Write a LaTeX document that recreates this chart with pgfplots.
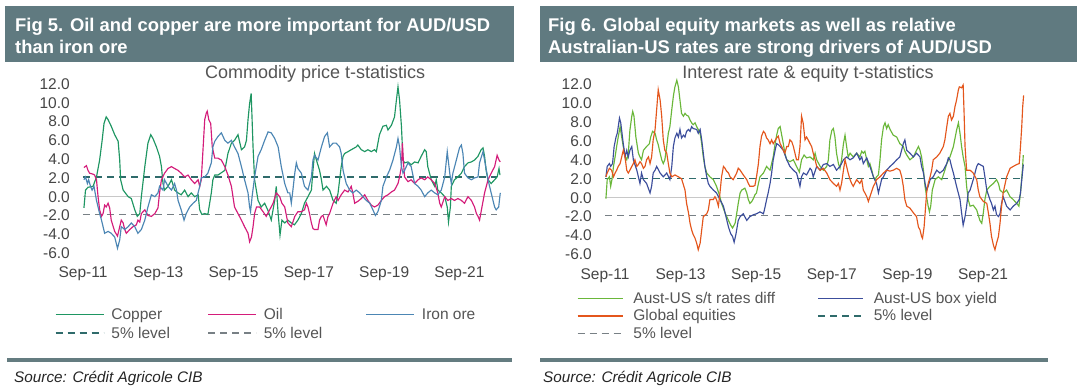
\documentclass[border=0pt]{standalone}
\usepackage{pgfplots}
\pgfplotsset{compat=1.18}
\usepackage{fontspec}
\setmainfont{Liberation Sans}
\definecolor{hdr}{RGB}{96,122,128}
\definecolor{sepc}{RGB}{100,124,128}
\definecolor{tickgray}{RGB}{70,70,70}
\definecolor{leggray}{RGB}{85,85,85}
\definecolor{zerogray}{RGB}{200,200,200}
\definecolor{tealdash}{RGB}{47,107,107}
\definecolor{graydash}{RGB}{120,128,133}
\definecolor{copper}{RGB}{30,150,98}
\definecolor{oil}{RGB}{212,28,122}
\definecolor{iron}{RGB}{76,134,180}
\definecolor{rates}{RGB}{106,183,58}
\definecolor{box}{RGB}{60,78,156}
\definecolor{equity}{RGB}{228,86,28}
\newcommand{\LL}[2][105pt]{\makebox[#1][l]{\hspace{7pt}#2}}
\newcommand{\LR}[1]{\makebox[194pt][l]{\hspace{10pt}#1}}
\pgfplotsset{tstat/.style={
  scale only axis, clip=false,
  axis line style={draw=none}, major tick length=0pt,
  xmin=0, xmax=134, ymin=-6, ymax=12,
  ytick={-6,-4,-2,0,2,4,6,8,10,12},
  yticklabels={-6.0,-4.0,-2.0,0.0,2.0,4.0,6.0,8.0,10.0,12.0},
  xtick={0,24,48,72,96,120},
  xticklabels={Sep-11,Sep-13,Sep-15,Sep-17,Sep-19,Sep-21},
  ticklabel style={font=\fontsize{15.5pt}{18pt}\selectfont, text=tickgray},
  yticklabel style={anchor=east, inner sep=0pt, xshift=-13pt},
  xticklabel style={anchor=base, inner sep=0pt, yshift=-24.5pt},
  title style={anchor=base, yshift=-1pt, inner sep=0pt, font=\fontsize{18pt}{20pt}\selectfont, text=leggray},
  legend cell align=left,
  every axis plot/.append style={line width=1.15pt},
  legend style={draw=none, fill=none, inner sep=0pt, outer sep=0pt, column sep=0pt,
    font=\fontsize{15.5pt}{18pt}\selectfont, text=leggray, nodes={inner sep=0pt}},
}}
\begin{document}
\begin{tikzpicture}
\path[use as bounding box, fill=white] (0pt,0pt) rectangle (1080pt,-390pt);
\fill[hdr] (5pt,-6pt) rectangle (514pt,-62pt);
\fill[hdr] (540pt,-6pt) rectangle (1077pt,-62pt);
\node[anchor=base west, inner sep=0pt, text=white, font=\fontsize{18.4pt}{22pt}\selectfont\bfseries] at (15pt,-32pt) {Fig 5. Oil and copper are more important for AUD/USD};
\node[anchor=base west, inner sep=0pt, text=white, font=\fontsize{18.4pt}{22pt}\selectfont\bfseries] at (15pt,-54pt) {than iron ore};
\node[anchor=base west, inner sep=0pt, text=white, font=\fontsize{18.4pt}{22pt}\selectfont\bfseries] at (548pt,-32pt) {Fig 6. Global equity markets as well as relative};
\node[anchor=base west, inner sep=0pt, text=white, font=\fontsize{18.4pt}{22pt}\selectfont\bfseries] at (548pt,-54pt) {Australian-US rates are strong drivers of AUD/USD};
\fill[sepc] (7pt,-358pt) rectangle (512pt,-362pt);
\fill[sepc] (540pt,-358pt) rectangle (1048pt,-362pt);
\node[anchor=base west, inner sep=0pt, text=black!85, font=\fontsize{15.3pt}{18pt}\selectfont\itshape] at (14pt,-382pt) {Source: Crédit Agricole CIB};
\node[anchor=base west, inner sep=0pt, text=black!85, font=\fontsize{15.3pt}{18pt}\selectfont\itshape] at (543pt,-382pt) {Source: Crédit Agricole CIB};

% ---------------- left chart ----------------
\begin{axis}[tstat, at={(83pt,-253pt)}, anchor=south west, width=420.4pt, height=169pt,
  title={Commodity price t-statistics}, title style={at={(axis description cs:0.552,1)}},
  legend columns=3,
  legend image code/.code={\draw[#1] (0pt,0pt) -- (48pt,0pt);},
  legend style={at={(-0.0666,-0.326)}, anchor=north west, row sep=6pt}]
\addplot[forget plot, zerogray, line width=1pt] coordinates {(0,0) (133,0)};
\addplot[forget plot, tealdash, dash pattern=on 7pt off 5pt, line width=1.4pt] coordinates {(0,2.1) (132,2.1)};
\addplot[forget plot, graydash, dash pattern=on 7pt off 5pt, line width=1.4pt] coordinates {(0,-1.9) (132,-1.9)};
\addplot[copper] coordinates {(0.3,-1.2)(0.8,0.7)(1.6,1.0)(3.2,1.1)(4.3,2.1)(5.3,3.9)(6.1,6.0)(6.7,7.8)(7.4,8.5)(8.0,8.2)(9.0,7.5)(10.1,6.6)(11.2,5.9)(11.7,3.9)(12.0,1.8)(12.8,0.7)(14.4,0.0)(15.4,-0.2)(16.5,-1.4)(17.3,-2.1)(18.1,-1.8)(18.6,0.0)(19.7,3.2)(20.7,5.7)(21.6,6.6)(22.3,6.2)(23.4,5.3)(24.4,4.3)(25.0,3.2)(25.5,1.4)(26.0,0.7)(27.1,1.1)(28.2,1.8)(29.2,0.7)(30.3,0.4)(31.3,0.2)(32.4,0.7)(33.5,0.0)(34.5,0.4)(35.6,0.0)(36.7,0.2)(37.2,-1.4)(37.9,-1.9)(38.8,-1.8)(39.8,-1.9)(40.9,0.4)(41.4,1.8)(42.0,2.3)(43.0,2.3)(45.2,2.8)(46.2,4.6)(47.3,5.7)(48.3,6.0)(49.4,6.6)(50.5,5.0)(51.5,5.3)(52.1,6.0)(52.6,8.2)(53.1,9.9)(53.6,11.0)(53.9,8.2)(54.2,5.3)(54.7,1.8)(55.8,-0.4)(56.8,-1.1)(57.9,-0.7)(59.0,-1.5)(60.0,-2.5)(61.1,-0.4)(61.6,1.1)(62.2,-1.8)(62.8,-4.1)(63.4,-2.5)(64.3,-2.8)(65.3,-2.5)(66.4,-2.8)(67.4,-3.0)(68.5,-2.5)(69.6,-1.8)(70.6,-0.7)(71.7,0.0)(72.8,0.7)(73.3,2.8)(73.8,4.6)(74.4,3.9)(75.4,2.8)(76.0,1.8)(76.5,0.7)(77.6,1.1)(78.6,0.7)(79.7,-0.4)(80.7,-0.7)(81.3,0.4)(81.8,1.8)(82.3,3.2)(82.9,4.3)(83.4,4.6)(84.5,4.8)(85.5,5.0)(87.1,5.3)(87.6,5.5)(88.7,5.0)(89.8,4.8)(90.8,5.0)(91.9,4.8)(92.9,5.0)(93.5,4.8)(94.5,6.6)(95.6,7.5)(96.7,7.6)(97.2,7.1)(98.3,7.6)(99.3,8.5)(99.9,10.3)(100.4,11.7)(100.9,10.3)(101.5,7.5)(102.0,3.9)(102.5,3.6)(103.6,3.7)(104.6,3.4)(105.7,3.7)(106.8,3.6)(107.8,4.3)(108.9,5.0)(109.4,4.8)(109.9,3.2)(111.0,1.8)(112.1,1.1)(112.6,1.8)(113.1,0.7)(114.2,0.4)(115.3,0.0)(116.1,-1.1)(116.5,-2.7)(117.1,-1.1)(117.4,1.1)(118.4,1.8)(119.5,2.1)(120.6,2.5)(121.6,3.2)(122.7,3.6)(123.8,3.7)(124.8,3.9)(125.9,4.3)(126.9,5.0)(127.5,5.2)(128.0,4.3)(128.5,2.8)(129.1,1.8)(130.1,1.4)(131.2,1.8)(132.0,2.1)(132.6,3.0)(132.9,2.3)};
\addlegendentry{\LL[103pt]{Copper}}
\addplot[oil] coordinates {(0.3,3.1)(1.1,3.3)(1.6,2.8)(2.1,2.5)(3.2,2.4)(3.7,2.3)(4.3,1.8)(4.8,0.0)(5.3,-1.4)(5.9,-2.1)(6.4,-1.8)(6.9,-0.9)(7.4,-1.1)(8.0,-0.7)(8.5,-1.2)(9.0,-2.5)(10.1,-3.7)(11.0,-4.2)(11.7,-3.2)(12.2,-2.5)(12.8,-2.8)(13.3,-3.5)(13.8,-3.9)(14.9,-3.5)(15.9,-3.2)(17.0,-3.0)(17.5,-2.5)(18.1,-2.7)(18.6,-1.8)(19.7,-1.4)(20.7,-2.0)(21.8,-2.1)(22.9,-1.8)(23.9,-1.2)(24.4,0.4)(25.0,1.8)(26.0,2.5)(27.1,3.0)(28.2,3.2)(29.2,3.0)(30.3,2.8)(31.3,2.5)(32.4,2.1)(33.5,2.3)(34.5,1.8)(35.6,1.4)(36.7,1.8)(37.2,1.1)(37.7,1.8)(38.3,5.3)(38.8,8.2)(39.3,8.9)(39.6,9.1)(40.1,8.2)(40.7,7.8)(41.2,5.3)(42.0,4.1)(43.0,4.1)(44.1,3.9)(45.2,3.2)(46.2,2.3)(47.3,1.1)(48.3,-1.1)(49.4,-1.8)(50.5,-2.5)(51.5,-3.2)(52.6,-3.9)(53.1,-4.8)(53.7,-4.3)(54.2,-3.2)(54.7,-1.8)(55.3,-1.1)(56.3,-1.1)(57.4,-1.6)(58.4,-2.1)(59.5,-1.4)(60.6,-0.7)(61.6,0.4)(62.7,0.0)(63.4,-0.7)(64.3,-1.1)(65.3,-2.8)(66.4,-3.2)(67.5,-2.1)(68.5,-1.6)(69.6,-1.6)(70.6,-1.4)(71.2,-0.7)(71.7,-1.1)(72.2,-1.8)(72.8,-2.8)(73.3,-3.4)(73.8,-3.5)(74.9,-3.5)(75.4,-2.5)(76.0,-2.1)(76.5,-2.0)(77.0,-2.5)(77.5,-3.0)(78.1,-2.1)(78.6,-1.8)(79.7,-0.7)(80.7,0.0)(81.3,-0.4)(82.3,0.2)(83.4,0.7)(84.5,0.5)(85.5,1.1)(86.0,0.4)(86.6,-0.7)(87.6,-0.5)(88.7,-0.2)(89.8,0.2)(90.8,-0.4)(91.9,-0.9)(92.9,-1.1)(94.0,-0.9)(95.1,-0.4)(96.1,0.0)(97.2,0.2)(98.3,0.5)(99.3,0.7)(100.4,1.4)(100.9,2.1)(101.5,3.2)(101.8,5.7)(102.1,3.9)(102.5,2.1)(103.6,1.6)(104.6,1.8)(105.7,1.4)(106.8,1.8)(107.8,2.0)(108.9,1.8)(109.9,2.1)(111.0,1.8)(112.1,1.4)(113.1,0.4)(113.7,-0.7)(114.2,-1.1)(115.3,0.0)(116.3,-0.4)(117.4,-0.2)(118.4,-0.4)(119.5,-0.2)(120.6,-0.4)(121.6,-0.7)(122.7,0.0)(123.8,-0.4)(124.8,-1.1)(125.4,-1.8)(125.9,-2.1)(126.4,-2.5)(127.0,-1.4)(128.0,0.4)(129.1,1.8)(130.1,2.5)(131.2,3.2)(132.0,4.4)(132.6,3.9)(133.0,3.7)};
\addlegendentry{\LL[109pt]{Oil}}
\addplot[iron] coordinates {(0.3,1.8)(0.8,2.1)(1.4,1.4)(1.8,1.8)(2.4,1.1)(2.9,0.7)(3.5,1.1)(4.3,-0.4)(4.8,-1.1)(5.3,-1.8)(5.9,-2.5)(6.4,-3.2)(6.9,-3.9)(8.0,-3.7)(9.0,-3.9)(10.1,-4.3)(11.0,-5.5)(11.7,-4.6)(12.2,-3.2)(13.3,-3.5)(14.4,-3.2)(15.4,-2.8)(16.5,-3.2)(17.5,-3.9)(18.6,-3.5)(19.7,-2.5)(20.7,-1.1)(21.8,0.2)(22.9,0.0)(23.9,0.4)(24.4,1.1)(25.5,0.7)(26.0,1.8)(27.1,1.1)(28.2,0.7)(29.2,1.4)(29.8,0.7)(30.3,-0.4)(31.3,-1.4)(32.2,-2.5)(32.9,-1.8)(34.0,-1.1)(35.1,-0.7)(36.1,-0.4)(37.2,1.1)(37.7,2.0)(38.8,2.1)(39.8,2.5)(40.9,3.6)(41.4,5.3)(42.0,5.9)(43.0,6.4)(44.1,6.8)(45.2,6.0)(46.2,5.7)(47.3,6.0)(48.3,5.3)(49.4,4.6)(50.5,3.2)(51.5,1.8)(52.6,0.4)(53.1,-1.1)(53.4,-1.6)(53.9,0.0)(54.7,2.1)(55.8,4.3)(56.8,5.0)(57.9,6.0)(59.0,6.9)(60.0,6.8)(61.1,6.2)(62.2,5.3)(63.2,3.2)(64.3,1.4)(65.3,0.4)(65.9,0.4)(66.4,-0.7)(66.9,0.7)(67.5,2.5)(68.0,3.6)(68.5,3.0)(69.6,2.5)(70.6,1.1)(71.7,0.7)(72.8,2.1)(73.3,3.9)(73.8,4.4)(74.9,3.9)(76.0,5.3)(77.0,6.4)(77.9,6.8)(78.6,5.3)(79.7,5.7)(80.7,5.7)(81.8,5.3)(82.3,4.6)(82.9,2.8)(83.9,1.4)(85.0,0.7)(86.0,0.4)(87.1,0.7)(88.2,0.4)(89.2,0.0)(90.3,-0.4)(91.4,-0.7)(92.4,-1.4)(93.2,-2.0)(94.0,-1.6)(95.1,-0.4)(95.6,1.1)(96.7,2.1)(97.7,2.8)(98.8,3.9)(99.9,5.3)(100.4,6.2)(100.9,5.3)(101.5,3.2)(102.0,2.5)(102.5,2.8)(103.6,3.6)(104.6,3.2)(105.7,1.4)(106.8,1.1)(107.8,0.7)(108.9,0.0)(109.9,0.4)(111.0,0.7)(112.1,0.4)(113.1,0.2)(114.2,0.7)(115.3,2.1)(116.1,4.8)(116.9,2.5)(117.4,1.4)(117.9,2.5)(119.0,3.9)(120.0,5.2)(120.6,5.5)(121.1,4.6)(121.6,2.5)(122.7,2.0)(123.8,1.8)(124.8,2.0)(125.9,2.1)(126.4,3.6)(127.5,4.8)(128.0,3.9)(129.1,1.8)(130.1,0.4)(131.2,-1.1)(131.7,-1.4)(132.5,-1.1)(133.0,0.4)};
\addlegendentry{\LL{Iron ore}}
\addlegendimage{tealdash, dash pattern=on 7pt off 5pt, line width=1.4pt}
\addlegendentry{\LL[103pt]{5\% level}}
\addlegendimage{graydash, dash pattern=on 7pt off 5pt, line width=1.4pt}
\addlegendentry{\LL[109pt]{5\% level}}
\end{axis}

% ---------------- right chart ----------------
\begin{axis}[tstat, at={(605pt,-254.5pt)}, anchor=south west, width=422.1pt, height=170.5pt,
  title={Interest rate \& equity t-statistics}, title style={at={(axis description cs:0.481,1)}},
  legend columns=2,
  legend image code/.code={\draw[#1] (0pt,0pt) -- (45pt,0pt);},
  legend style={at={(-0.0663,-0.2195)}, anchor=north west, row sep=5pt}]
\addplot[forget plot, zerogray, line width=1pt] coordinates {(0,0) (133,0)};
\addplot[forget plot, tealdash, dash pattern=on 7pt off 5pt, line width=1.4pt] coordinates {(0,2.0) (133,2.0)};
\addplot[forget plot, graydash, dash pattern=on 7pt off 5pt, line width=1.4pt] coordinates {(0,-1.9) (133,-1.9)};
\addplot[rates] coordinates {(0.3,-0.1)(0.7,1.9)(1.4,2.2)(1.8,1.2)(2.2,1.9)(2.7,3.3)(3.2,4.3)(3.7,5.4)(4.2,6.4)(4.8,7.5)(5.3,6.4)(5.8,5.4)(6.4,4.3)(6.9,4.0)(7.4,4.7)(7.9,7.1)(8.5,8.6)(8.8,9.1)(9.2,8.6)(9.8,6.4)(10.6,4.7)(11.1,4.3)(11.6,4.0)(12.2,5.0)(13.2,5.4)(14.1,5.7)(14.5,6.4)(15.1,7.0)(15.9,6.8)(16.4,6.1)(16.9,5.6)(17.5,4.7)(18.0,4.0)(18.5,3.6)(19.0,4.0)(19.6,5.4)(20.1,6.8)(20.6,7.5)(21.2,9.3)(21.7,10.7)(22.2,11.7)(22.8,12.4)(23.3,11.7)(23.8,10.3)(24.3,8.9)(24.9,8.6)(25.4,8.9)(25.9,8.7)(26.5,8.6)(27.0,8.2)(27.5,7.9)(28.0,7.7)(28.6,7.9)(29.1,7.5)(29.6,7.2)(30.2,6.8)(30.7,5.7)(31.2,4.3)(31.7,3.3)(32.3,2.6)(33.3,2.2)(34.4,1.9)(35.4,1.2)(36.3,0.3)(37.0,-0.6)(38.1,-1.6)(39.2,-2.4)(39.9,-2.9)(40.5,-3.2)(41.3,-2.7)(41.8,-1.7)(42.3,-0.6)(42.9,0.5)(43.4,0.8)(44.4,1.0)(45.0,0.5)(45.5,-0.2)(46.0,-0.6)(46.6,-0.4)(47.1,-0.1)(47.6,0.3)(48.1,0.5)(48.7,1.5)(49.2,2.2)(50.3,2.6)(51.3,3.3)(51.8,3.1)(52.4,2.9)(52.9,3.6)(53.4,4.3)(54.0,5.7)(54.5,6.6)(55.0,7.3)(55.6,7.5)(56.1,6.6)(56.6,5.7)(57.1,4.7)(57.7,4.0)(58.7,3.8)(59.8,4.0)(60.8,3.3)(61.7,2.7)(62.4,4.0)(63.2,4.5)(64.0,4.2)(65.1,4.3)(66.1,4.0)(66.7,4.7)(67.2,4.0)(68.3,3.3)(69.3,2.9)(70.4,3.3)(70.9,4.0)(71.4,6.1)(72.0,7.1)(72.5,7.3)(73.0,6.4)(73.5,4.7)(74.1,3.6)(74.6,3.1)(75.1,4.0)(75.7,5.7)(76.2,6.6)(76.7,5.4)(77.2,4.3)(77.8,4.7)(78.8,4.3)(79.9,4.7)(80.9,4.3)(81.5,4.9)(82.0,4.7)(82.5,4.9)(83.1,4.0)(83.6,3.3)(84.1,3.6)(84.7,2.9)(85.2,2.2)(85.7,1.9)(86.2,2.2)(86.8,2.4)(87.3,4.0)(87.8,6.1)(88.4,7.5)(88.9,7.9)(89.4,7.3)(89.9,7.7)(90.5,7.2)(91.5,6.6)(92.6,6.4)(93.6,5.7)(94.7,5.4)(95.2,4.9)(95.8,4.5)(96.8,4.0)(97.9,4.3)(98.9,5.0)(99.5,5.4)(100.0,5.0)(100.5,4.3)(101.1,2.9)(101.6,1.2)(102.1,0.1)(102.6,-0.9)(103.0,-1.5)(103.4,-0.9)(103.9,0.8)(104.8,1.9)(105.8,2.2)(106.9,1.9)(107.9,2.9)(108.5,3.6)(109.5,4.3)(110.6,5.4)(111.6,7.1)(112.2,7.9)(112.7,6.8)(113.2,5.4)(113.7,4.3)(114.3,3.3)(114.8,1.2)(115.3,-0.2)(115.9,-0.9)(116.9,-0.8)(118.0,-1.3)(119.0,-2.4)(119.6,-2.7)(120.1,-1.6)(120.6,-0.2)(121.2,0.8)(122.2,1.2)(123.3,1.5)(124.3,1.9)(124.9,1.5)(125.4,0.8)(126.4,0.5)(127.5,0.8)(128.6,0.1)(129.6,-0.2)(130.7,-0.6)(131.4,-0.9)(131.9,0.5)(132.5,2.9)(132.8,4.5)};
\addlegendentry{\LR{Aust-US s/t rates diff}}
\addplot[box] coordinates {(0.3,2.2)(0.7,3.3)(1.4,3.6)(1.8,3.3)(2.4,3.6)(2.9,5.4)(3.5,6.4)(3.9,6.8)(4.6,8.4)(5.0,7.9)(5.4,6.8)(5.8,5.7)(6.4,4.3)(6.9,5.0)(7.4,4.3)(7.9,5.0)(8.5,5.4)(9.0,4.0)(10.1,2.9)(10.6,2.2)(11.1,1.5)(11.6,2.6)(12.2,1.9)(13.2,1.5)(14.3,0.5)(14.8,1.2)(15.3,2.6)(15.9,2.9)(16.4,3.3)(17.5,2.6)(18.5,2.2)(19.6,2.6)(20.6,1.9)(21.2,3.3)(21.7,5.4)(22.2,6.3)(22.8,6.8)(23.3,6.4)(23.8,7.2)(24.3,6.3)(24.9,6.6)(25.4,6.4)(25.9,7.0)(26.5,7.2)(27.0,7.0)(27.5,7.5)(28.0,7.3)(29.1,7.2)(29.6,6.8)(30.2,7.2)(30.7,6.1)(31.2,4.7)(31.7,3.3)(32.3,2.2)(32.8,1.5)(33.3,1.2)(34.4,0.8)(35.4,0.5)(36.5,-0.2)(37.6,-0.9)(38.4,-2.0)(39.2,-3.1)(39.9,-3.8)(40.5,-4.1)(41.0,-4.7)(41.6,-3.8)(42.3,-2.4)(42.9,-2.0)(43.9,-1.7)(45.0,-2.4)(46.0,-2.0)(47.1,-1.8)(48.1,-1.7)(49.2,-1.5)(50.3,-1.7)(50.8,-1.0)(51.3,-0.2)(51.8,0.5)(52.4,1.5)(52.9,2.6)(53.4,4.0)(54.0,5.0)(54.5,5.7)(55.0,5.6)(55.6,5.4)(56.6,5.0)(57.7,4.0)(58.7,3.3)(59.8,2.9)(60.8,2.6)(61.4,1.9)(61.9,1.2)(62.4,2.2)(63.0,2.6)(64.0,2.4)(65.1,3.1)(65.6,2.9)(66.1,2.2)(67.2,3.3)(68.3,2.9)(69.3,3.5)(70.4,3.6)(71.4,3.3)(72.5,3.5)(73.5,2.9)(74.6,3.3)(75.7,4.0)(76.7,4.3)(77.8,4.0)(78.8,4.2)(79.9,4.7)(80.9,4.0)(81.5,4.3)(82.0,3.6)(83.1,4.2)(84.1,3.3)(85.2,2.2)(86.2,1.5)(86.8,0.5)(87.3,1.2)(87.8,1.9)(88.4,2.2)(89.4,2.9)(90.5,3.3)(91.5,3.6)(92.6,4.0)(93.6,4.3)(94.7,5.7)(95.2,6.1)(95.8,5.0)(96.8,4.7)(97.9,4.3)(98.9,4.7)(100.0,4.3)(100.5,3.3)(101.1,2.6)(101.6,1.5)(102.1,0.8)(102.6,1.2)(103.2,1.9)(104.2,2.2)(105.3,2.9)(106.3,2.6)(107.4,2.9)(108.5,3.6)(109.0,4.2)(109.5,4.0)(110.0,3.3)(110.6,2.6)(111.6,1.2)(112.7,-0.2)(113.2,-1.6)(113.7,-2.9)(114.3,-2.0)(114.8,-0.9)(115.3,0.5)(115.9,0.8)(116.9,1.9)(118.0,3.3)(118.5,3.6)(119.0,3.5)(120.1,3.3)(120.6,2.2)(121.2,0.8)(122.2,-0.2)(122.7,-0.6)(123.3,-1.3)(123.8,-0.9)(124.3,-1.8)(124.9,-2.0)(125.4,-1.7)(125.9,-0.6)(126.4,0.1)(127.5,-0.9)(128.6,-1.3)(129.6,-0.9)(130.7,-0.6)(131.5,-0.2)(131.9,0.5)(132.4,2.2)(132.8,3.5)};
\addlegendentry{\LR{Aust-US box yield}}
\addplot[equity] coordinates {(0.3,2.2)(0.7,2.6)(1.4,3.1)(2.1,2.9)(2.7,2.2)(3.2,2.6)(3.7,2.9)(4.2,3.3)(4.8,3.6)(5.3,4.3)(5.8,5.0)(6.4,4.2)(6.9,2.9)(7.4,2.6)(7.9,2.9)(8.5,3.3)(9.0,3.6)(9.5,4.0)(10.1,3.3)(10.6,3.5)(11.1,3.8)(11.6,3.6)(12.2,3.1)(12.7,3.3)(13.2,4.0)(13.8,4.3)(14.3,3.6)(14.8,4.3)(15.3,6.1)(15.9,7.2)(16.4,9.3)(16.9,11.4)(17.5,10.3)(18.0,8.6)(18.5,6.1)(19.0,5.0)(19.6,4.7)(20.1,3.6)(20.6,2.6)(21.2,2.2)(22.2,2.4)(23.3,2.2)(24.3,2.0)(25.4,0.8)(25.9,-0.6)(26.5,-1.6)(27.0,-2.7)(27.5,-3.4)(28.0,-3.9)(28.6,-4.3)(29.1,-4.8)(29.6,-5.5)(30.2,-4.8)(30.7,-3.4)(31.2,-2.0)(32.3,-1.7)(32.8,-1.3)(33.3,-0.2)(34.4,-0.2)(34.9,0.1)(35.4,-0.2)(36.0,-0.9)(36.5,0.5)(37.0,2.2)(37.6,3.3)(38.1,3.1)(38.6,2.8)(39.2,2.6)(39.7,2.2)(40.7,1.9)(41.8,2.6)(42.3,3.1)(42.9,2.9)(43.9,2.4)(45.0,1.9)(45.5,1.5)(46.0,1.2)(47.1,1.2)(47.6,1.3)(48.1,2.2)(48.7,3.6)(49.2,5.4)(49.7,6.5)(50.3,7.0)(50.8,6.8)(51.3,6.3)(51.8,6.1)(52.4,5.7)(52.9,6.1)(53.4,5.7)(54.5,6.3)(55.0,6.5)(55.6,5.7)(56.1,5.4)(56.6,5.0)(57.1,4.7)(57.7,5.4)(58.2,5.4)(58.7,6.1)(59.3,5.9)(59.8,5.4)(60.8,4.0)(61.4,4.0)(61.9,5.4)(62.4,8.6)(62.9,7.9)(63.5,6.1)(64.0,6.4)(64.5,6.1)(65.1,5.7)(65.6,5.4)(66.1,4.7)(66.7,4.0)(67.2,3.3)(68.3,2.9)(69.3,3.1)(70.4,2.6)(71.4,1.9)(72.5,1.5)(73.5,1.2)(74.1,1.5)(74.6,0.8)(75.1,1.5)(75.7,2.9)(76.2,4.0)(76.7,3.3)(77.2,2.6)(77.8,1.9)(78.3,1.5)(78.8,1.2)(79.9,1.9)(80.9,1.5)(81.5,1.9)(82.0,0.8)(82.5,0.5)(83.1,0.1)(83.6,-0.4)(84.1,0.1)(85.2,1.2)(85.7,1.5)(86.2,1.9)(87.3,2.2)(88.4,2.6)(89.4,2.9)(90.5,2.8)(91.5,2.9)(92.6,3.1)(93.6,2.9)(94.2,2.2)(94.7,1.2)(95.2,-0.2)(95.8,-0.9)(96.8,-1.1)(97.9,-1.6)(98.9,-2.0)(99.5,-3.1)(100.0,-3.4)(100.5,-4.1)(100.8,-4.3)(101.3,-3.1)(101.7,-1.3)(102.1,0.5)(102.6,1.5)(103.2,2.2)(103.7,2.9)(104.2,4.0)(105.3,4.3)(106.3,4.7)(107.4,5.4)(107.9,6.1)(108.5,7.5)(109.0,8.6)(109.5,8.9)(110.0,8.2)(110.6,8.6)(111.1,9.6)(111.6,10.3)(112.2,11.4)(112.5,11.7)(113.2,11.6)(113.7,11.9)(114.0,8.9)(114.3,5.4)(114.8,2.9)(115.9,2.9)(116.9,2.6)(118.0,1.9)(118.5,0.8)(119.0,0.1)(120.1,-0.4)(121.2,-0.6)(121.7,-1.6)(122.2,-2.7)(122.7,-4.1)(123.3,-5.0)(123.8,-5.5)(124.3,-4.8)(124.9,-4.1)(125.4,-2.7)(125.9,-0.9)(126.4,0.5)(127.5,2.2)(128.6,3.1)(129.6,3.3)(130.7,3.5)(131.5,3.6)(131.9,5.4)(132.3,7.5)(132.6,9.6)(132.9,10.8)};
\addlegendentry{\LR{Global equities}}
\addlegendimage{tealdash, dash pattern=on 7pt off 5pt, line width=1.4pt}
\addlegendentry{\LR{5\% level}}
\addlegendimage{graydash, dash pattern=on 7pt off 5pt, line width=1.4pt}
\addlegendentry{\LR{5\% level}}
\end{axis}
\end{tikzpicture}
\end{document}
